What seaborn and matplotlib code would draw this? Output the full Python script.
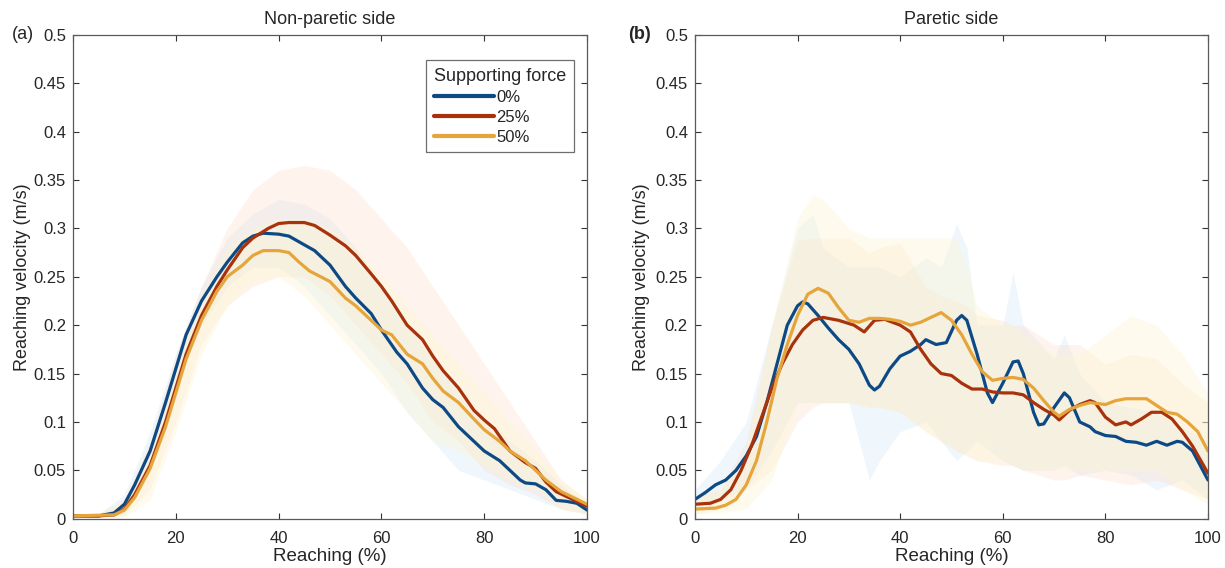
import numpy as np
import pandas as pd
import matplotlib
matplotlib.use("Agg")
import matplotlib.pyplot as plt
import seaborn as sns

# ---------------- data: panel (a) Non-paretic side ----------------
a0_x = [0, 5, 8, 10, 12, 15, 18, 20, 22, 25, 28, 30, 33, 35, 37, 40, 42, 45, 47, 50, 53, 55, 58, 60, 63, 65, 68, 70, 72, 75, 78, 80, 83, 85, 87, 88, 90, 92, 94, 96, 98, 100]
a0_y = [0.003, 0.003, 0.006, 0.015, 0.035, 0.07, 0.12, 0.155, 0.19, 0.225, 0.25, 0.265, 0.285, 0.292, 0.295, 0.294, 0.292, 0.283, 0.277, 0.262, 0.24, 0.228, 0.212, 0.195, 0.172, 0.16, 0.135, 0.123, 0.115, 0.095, 0.08, 0.07, 0.06, 0.05, 0.04, 0.037, 0.036, 0.03, 0.019, 0.018, 0.016, 0.009]

a25_x = [0, 5, 8, 10, 12, 15, 18, 20, 22, 25, 28, 30, 33, 35, 38, 40, 42, 45, 47, 50, 53, 55, 58, 60, 62, 65, 68, 70, 72, 75, 78, 80, 82, 85, 88, 90, 92, 94, 96, 100]
a25_y = [0.003, 0.003, 0.004, 0.01, 0.025, 0.055, 0.1, 0.135, 0.17, 0.21, 0.24, 0.257, 0.28, 0.29, 0.3, 0.305, 0.306, 0.306, 0.303, 0.293, 0.282, 0.272, 0.253, 0.24, 0.225, 0.2, 0.185, 0.168, 0.153, 0.135, 0.112, 0.102, 0.093, 0.07, 0.058, 0.052, 0.038, 0.028, 0.023, 0.013]

a50_x = [0, 8, 10, 12, 15, 18, 20, 22, 25, 28, 30, 33, 35, 37, 40, 42, 44, 46, 50, 53, 55, 58, 60, 62, 65, 68, 70, 72, 75, 78, 80, 83, 85, 88, 90, 92, 95, 100]
a50_y = [0.003, 0.004, 0.009, 0.022, 0.052, 0.095, 0.13, 0.165, 0.205, 0.235, 0.25, 0.262, 0.272, 0.277, 0.277, 0.275, 0.265, 0.256, 0.245, 0.228, 0.22, 0.205, 0.195, 0.19, 0.17, 0.16, 0.145, 0.132, 0.12, 0.103, 0.092, 0.08, 0.07, 0.06, 0.05, 0.04, 0.028, 0.015]

band_x = [0, 5, 10, 15, 20, 25, 30, 35, 40, 45, 50, 55, 60, 65, 70, 75, 80, 85, 90, 95, 100]
a0_hi = [0.004, 0.005, 0.025, 0.09, 0.17, 0.24, 0.29, 0.315, 0.33, 0.325, 0.31, 0.28, 0.24, 0.2, 0.165, 0.13, 0.1, 0.08, 0.06, 0.035, 0.015]
a0_lo = [0.002, 0.002, 0.005, 0.05, 0.14, 0.2, 0.24, 0.26, 0.26, 0.24, 0.21, 0.18, 0.15, 0.11, 0.08, 0.05, 0.04, 0.03, 0.02, 0.01, 0.005]
a25_hi = [0.004, 0.005, 0.02, 0.08, 0.17, 0.24, 0.3, 0.34, 0.36, 0.365, 0.36, 0.34, 0.31, 0.28, 0.24, 0.2, 0.16, 0.12, 0.08, 0.04, 0.02]
a25_lo = [0.002, 0.002, 0.003, 0.03, 0.1, 0.18, 0.22, 0.24, 0.25, 0.25, 0.23, 0.2, 0.17, 0.14, 0.1, 0.08, 0.05, 0.035, 0.025, 0.01, 0.005]
a50_hi = [0.004, 0.005, 0.02, 0.08, 0.16, 0.23, 0.28, 0.3, 0.31, 0.31, 0.3, 0.28, 0.25, 0.22, 0.19, 0.16, 0.13, 0.1, 0.07, 0.04, 0.02]
a50_lo = [0.002, 0.002, 0.002, 0.02, 0.09, 0.17, 0.22, 0.245, 0.25, 0.23, 0.2, 0.17, 0.14, 0.11, 0.08, 0.07, 0.055, 0.04, 0.03, 0.01, 0.005]

# ---------------- data: panel (b) Paretic side ----------------
b0_x = [0, 2, 4, 6, 8, 10, 12, 14, 16, 18, 20, 21, 22, 24, 26, 28, 30, 32, 34, 35, 36, 38, 40, 42, 44, 45, 47, 49, 51, 52, 53, 55, 57, 58, 60, 62, 63, 64, 66, 67, 68, 70, 72, 73, 75, 77, 78, 80, 82, 84, 86, 88, 90, 92, 94, 95, 97, 100]
b0_y = [0.02, 0.027, 0.035, 0.04, 0.05, 0.065, 0.085, 0.12, 0.16, 0.2, 0.22, 0.224, 0.222, 0.21, 0.197, 0.185, 0.175, 0.16, 0.138, 0.133, 0.137, 0.155, 0.168, 0.173, 0.18, 0.185, 0.18, 0.182, 0.205, 0.21, 0.205, 0.17, 0.13, 0.12, 0.14, 0.162, 0.163, 0.15, 0.11, 0.097, 0.098, 0.115, 0.13, 0.125, 0.1, 0.095, 0.09, 0.086, 0.085, 0.08, 0.079, 0.076, 0.08, 0.076, 0.08, 0.079, 0.07, 0.04]

b25_x = [0, 3, 5, 7, 9, 11, 13, 15, 17, 19, 21, 23, 25, 28, 31, 33, 35, 37, 40, 42, 44, 46, 48, 50, 52, 54, 56, 58, 60, 62, 64, 66, 68, 70, 71, 73, 75, 77, 78, 80, 82, 84, 85, 87, 89, 91, 93, 95, 97, 100]
b25_y = [0.015, 0.016, 0.02, 0.03, 0.05, 0.075, 0.105, 0.135, 0.16, 0.18, 0.195, 0.205, 0.208, 0.205, 0.2, 0.193, 0.205, 0.206, 0.2, 0.193, 0.175, 0.16, 0.15, 0.148, 0.14, 0.134, 0.134, 0.131, 0.13, 0.13, 0.128, 0.12, 0.113, 0.107, 0.102, 0.112, 0.118, 0.122, 0.12, 0.105, 0.097, 0.1, 0.097, 0.103, 0.11, 0.11, 0.103, 0.09, 0.075, 0.047]

b50_x = [0, 4, 6, 8, 10, 12, 14, 16, 18, 20, 22, 24, 26, 28, 30, 32, 34, 36, 38, 40, 42, 44, 46, 48, 50, 52, 54, 56, 58, 60, 62, 64, 66, 68, 70, 71, 73, 75, 77, 80, 82, 84, 86, 88, 90, 92, 94, 96, 98, 100]
b50_y = [0.01, 0.011, 0.014, 0.02, 0.035, 0.06, 0.1, 0.145, 0.18, 0.21, 0.232, 0.238, 0.233, 0.218, 0.205, 0.203, 0.207, 0.207, 0.206, 0.204, 0.2, 0.203, 0.208, 0.213, 0.205, 0.19, 0.17, 0.152, 0.143, 0.145, 0.146, 0.144, 0.135, 0.122, 0.11, 0.106, 0.113, 0.117, 0.12, 0.118, 0.122, 0.124, 0.124, 0.124, 0.117, 0.11, 0.108, 0.1, 0.09, 0.07]

b_band_x = [0, 5, 10, 15, 20, 23, 25, 30, 34, 36, 40, 45, 48, 51, 53, 55, 60, 62, 64, 70, 72, 75, 80, 85, 90, 95, 100]
b0_hi = [0.03, 0.06, 0.1, 0.2, 0.3, 0.315, 0.28, 0.26, 0.26, 0.26, 0.25, 0.27, 0.26, 0.305, 0.28, 0.2, 0.2, 0.255, 0.2, 0.165, 0.19, 0.15, 0.12, 0.115, 0.11, 0.095, 0.08]
b0_lo = [0.01, 0.02, 0.03, 0.07, 0.12, 0.12, 0.12, 0.12, 0.04, 0.06, 0.09, 0.1, 0.08, 0.06, 0.07, 0.08, 0.06, 0.055, 0.05, 0.05, 0.055, 0.045, 0.05, 0.045, 0.03, 0.04, 0.02]
b25_hi = [0.025, 0.03, 0.08, 0.2, 0.288, 0.29, 0.29, 0.29, 0.275, 0.28, 0.285, 0.24, 0.23, 0.225, 0.22, 0.21, 0.205, 0.2, 0.2, 0.18, 0.18, 0.18, 0.16, 0.17, 0.165, 0.14, 0.12]
b25_lo = [0.005, 0.01, 0.03, 0.05, 0.1, 0.115, 0.12, 0.12, 0.115, 0.115, 0.11, 0.09, 0.08, 0.07, 0.065, 0.06, 0.055, 0.055, 0.05, 0.04, 0.04, 0.045, 0.04, 0.035, 0.04, 0.03, 0.02]
b50_hi = [0.02, 0.03, 0.07, 0.2, 0.31, 0.335, 0.33, 0.3, 0.29, 0.29, 0.29, 0.29, 0.29, 0.29, 0.26, 0.22, 0.2, 0.2, 0.19, 0.17, 0.17, 0.17, 0.19, 0.21, 0.2, 0.17, 0.13]
b50_lo = [0.005, 0.006, 0.01, 0.04, 0.12, 0.12, 0.12, 0.12, 0.115, 0.115, 0.11, 0.09, 0.08, 0.07, 0.065, 0.06, 0.06, 0.055, 0.05, 0.05, 0.05, 0.05, 0.05, 0.05, 0.05, 0.03, 0.015]

levels = ["0%", "25%", "50%"]
line_colors = {"0%": "#0d4a85", "25%": "#a8320c", "50%": "#e6a53a"}
band_colors = {"0%": "#d2e9fc", "25%": "#fde0cc", "50%": "#fef6cf"}

titles = ["Non-paretic side", "Paretic side"]
panel_tags = ["(a)", "(b)"]
xticks = [0, 20, 40, 60, 80, 100]
yticks = [0, 0.05, 0.1, 0.15, 0.2, 0.25, 0.3, 0.35, 0.4, 0.45, 0.5]
ytick_labels = ["0", "0.05", "0.1", "0.15", "0.2", "0.25", "0.3", "0.35", "0.4", "0.45", "0.5"]

sns.set_style("white")
plt.rcParams["font.family"] = ["Liberation Sans", "DejaVu Sans"]
text_color = "#262626"

def long_df(series):
    frames = []
    for lev, (xs, ys) in zip(levels, series):
        frames.append(pd.DataFrame({"x": xs, "y": ys, "force": lev}))
    return pd.concat(frames, ignore_index=True)

panels = [
    dict(lines=[(a0_x, a0_y), (a25_x, a25_y), (a50_x, a50_y)],
         bands=[(band_x, a0_lo, a0_hi), (band_x, a25_lo, a25_hi), (band_x, a50_lo, a50_hi)]),
    dict(lines=[(b0_x, b0_y), (b25_x, b25_y), (b50_x, b50_y)],
         bands=[(b_band_x, b0_lo, b0_hi), (b_band_x, b25_lo, b25_hi), (b_band_x, b50_lo, b50_hi)]),
]

fig = plt.figure(figsize=(12.25, 5.68), dpi=100)
ax_pos = [[0.0596, 0.0867, 0.4196, 0.8521], [0.5673, 0.0867, 0.4188, 0.8521]]

for i, p in enumerate(panels):
    ax = fig.add_axes(ax_pos[i])
    for lev, (bx, lo, hi) in zip(levels, p["bands"]):
        ax.fill_between(bx, lo, hi, color=band_colors[lev], alpha=0.35, linewidth=0)
    df = long_df(p["lines"])
    sns.lineplot(data=df, x="x", y="y", hue="force", hue_order=levels,
                 palette=line_colors, linewidth=2.3, ax=ax, legend=(i == 0),
                 sort=True, estimator=None)
    ax.set_xlim(0, 100)
    ax.set_ylim(0, 0.5)
    ax.set_xticks(xticks)
    ax.set_yticks(yticks)
    ax.set_yticklabels(ytick_labels)
    ax.tick_params(direction="in", length=4, width=0.8, colors="#333333",
                   labelcolor=text_color, labelsize=12, top=True, right=True,
                   bottom=True, left=True, pad=5)
    ax.tick_params(axis="x", pad=9)
    for s in ax.spines.values():
        s.set_color("#5a5a5a")
        s.set_linewidth(0.9)
        s.set_visible(True)
    ax.set_xlabel("Reaching (%)", fontsize=13.5, color=text_color, labelpad=1)
    ax.set_ylabel("Reaching velocity (m/s)", fontsize=13, color=text_color,
                  labelpad=2 if i == 0 else 4)
    ax.set_title(titles[i], fontsize=13, color=text_color, pad=8)
    ax.text(-0.118 if i == 0 else -0.13, 1.0, panel_tags[i], transform=ax.transAxes,
            fontsize=13, color=text_color, ha="left", va="center",
            fontweight="normal" if i == 0 else "bold")
    if i == 0:
        leg = ax.legend(title="Supporting force", loc="upper right",
                        bbox_to_anchor=(0.99, 0.965), frameon=True, fancybox=False,
                        fontsize=12, title_fontsize=13, handlelength=3.6,
                        handletextpad=0.15, labelspacing=0.3, borderpad=0.45,
                        alignment="left")
        leg.get_frame().set_edgecolor("#4a4a4a")
        leg.get_frame().set_linewidth(0.9)
        leg.get_title().set_color(text_color)
        for t in leg.get_texts():
            t.set_color(text_color)
        for h in leg.get_lines():
            h.set_linewidth(3)

fig.savefig("out.png", dpi=100)
